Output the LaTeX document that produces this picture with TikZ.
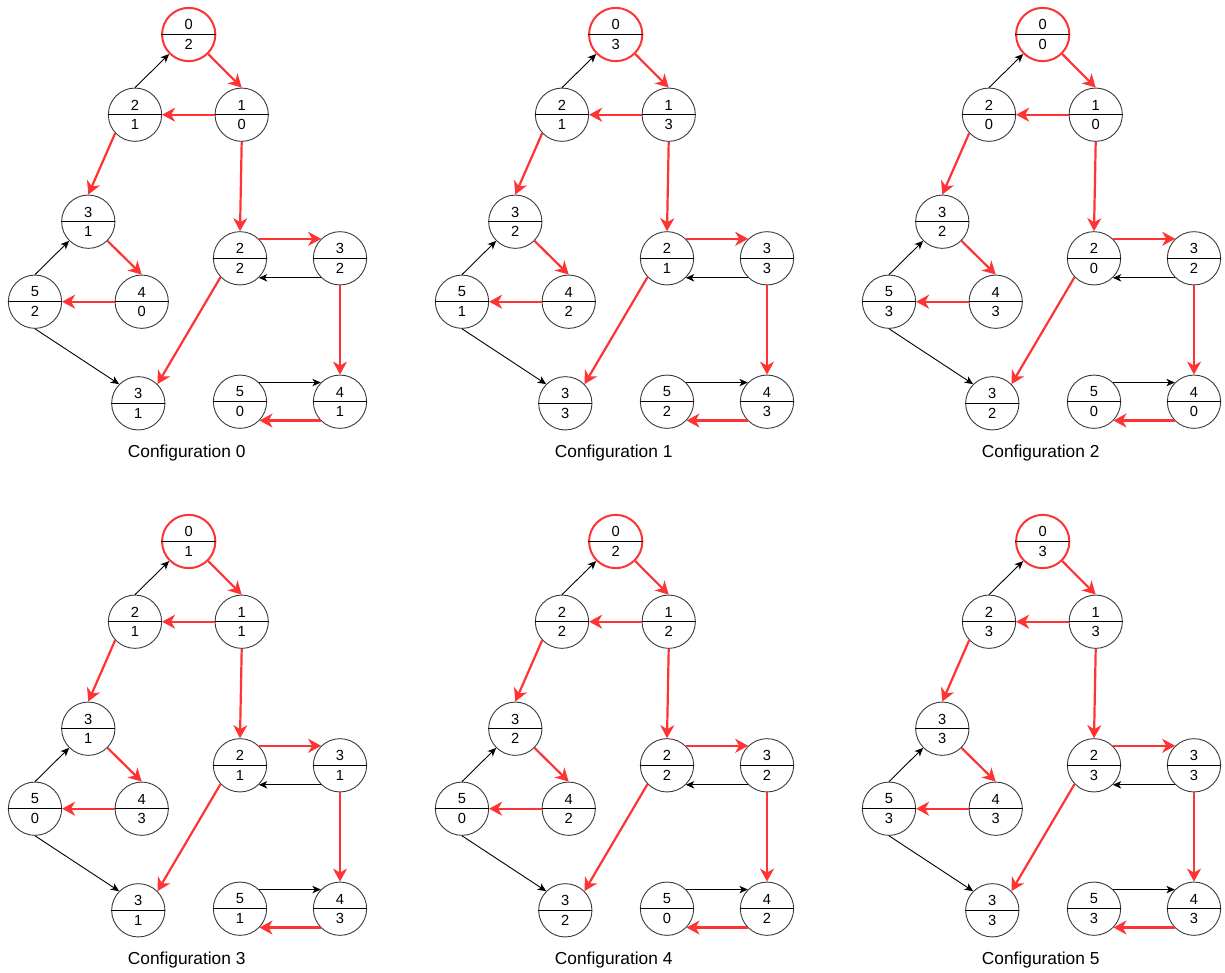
\documentclass[tikz,border=0pt]{standalone}
\usepackage{fontspec}
\setmainfont{Liberation Sans}
\usetikzlibrary{arrows.meta,calc}
\definecolor{ered}{HTML}{FF3333}
\definecolor{nodegray}{HTML}{3A3A3A}
\tikzset{
  cnode/.style={circle, draw=nodegray, line width=0.9pt, minimum size=53.3pt, inner sep=0pt},
  rootnode/.style={draw=ered, line width=2pt},
  divider/.style={black, line width=0.8pt},
  digit/.style={inner sep=0pt, font=\fontsize{14.67}{17}\selectfont},
  caption/.style={inner sep=0pt, anchor=base, font=\fontsize{17.33}{20}\selectfont},
  redge/.style={draw=ered, line width=2.2pt, -{Stealth[length=13pt, width=14pt, inset=4pt]}},
  bedge/.style={draw=black, line width=0.9pt, -{Stealth[length=8.5pt, width=7.5pt, inset=2.5pt]}}
}
\newcommand\mycnode[5]{%
  \node[cnode,#5] (#1) at #2 {};
  \draw[divider] (#1.west) -- (#1.east);
  \node[digit] (#1-t) at ([yshift=9.7pt]#1.center) {#3};
  \node[digit] (#1-b) at ([yshift=-9.7pt]#1.center) {#4};
}
\begin{document}
\begin{tikzpicture}[x=1pt, y=-1pt]
\useasboundingbox (0,0) rectangle (1225,972);
\foreach \k/\dx/\dy/\vn/\va/\vb/\vc/\vd/\ve/\vf/\vg/\vh/\vi/\vj in {
  0/0/0/2/1/0/1/2/0/1/2/2/0/1,
  1/427/0/3/1/3/2/1/2/3/1/3/2/3,
  2/854/0/0/0/0/2/3/3/2/0/2/0/0,
  3/0/507/1/1/1/1/0/3/1/1/1/1/3,
  4/427/507/2/2/2/2/0/2/2/2/2/0/2,
  5/854/507/3/3/3/3/3/3/3/3/3/3/3}{
  \begin{scope}[shift={(\dx,\dy)}]
    \mycnode{c\k-n0}{(188.7,34.5)}{0}{\vn}{rootnode}
    \mycnode{c\k-A}{(135,114.7)}{2}{\va}{}
    \mycnode{c\k-B}{(241.7,114.7)}{1}{\vb}{}
    \mycnode{c\k-C}{(88.3,221.7)}{3}{\vc}{}
    \mycnode{c\k-D}{(35,301.7)}{5}{\vd}{}
    \mycnode{c\k-E}{(141.7,301.7)}{4}{\ve}{}
    \mycnode{c\k-F}{(138.3,403.3)}{3}{\vf}{}
    \mycnode{c\k-G}{(240,258.3)}{2}{\vg}{}
    \mycnode{c\k-H}{(340,258.3)}{3}{\vh}{}
    \mycnode{c\k-I}{(240,401.7)}{5}{\vi}{}
    \mycnode{c\k-J}{(340,401.7)}{4}{\vj}{}
    \node[caption] (c\k-cap) at (186.7,457.5) {Configuration \k};
    % red edges
    \draw[redge] (c\k-n0.315) -- (c\k-B.north);
    \draw[redge] (c\k-B.west) -- (c\k-A.east);
    \draw[redge] (c\k-A.223) -- (c\k-C.north);
    \draw[redge] (c\k-C.315) -- (c\k-E.north);
    \draw[redge] (c\k-E.west) -- (c\k-D.east);
    \draw[redge] (c\k-B.south) -- (c\k-G.north);
    \draw[redge] (c\k-G.224) -- (c\k-F.45);
    \draw[redge] (c\k-G.46) -- (c\k-H.134);
    \draw[redge] (c\k-H.south) -- (c\k-J.north);
    \draw[redge] (c\k-J.224) -- (c\k-I.316);
    % black edges
    \draw[bedge] (c\k-A.north) -- (c\k-n0.225);
    \draw[bedge] (c\k-D.north) -- (c\k-C.225);
    \draw[bedge] (c\k-D.south) -- (c\k-F.135);
    \draw[bedge] (c\k-H.226) -- (c\k-G.314);
    \draw[bedge] (c\k-I.45) -- (c\k-J.135);
  \end{scope}
}
\end{tikzpicture}
\end{document}
